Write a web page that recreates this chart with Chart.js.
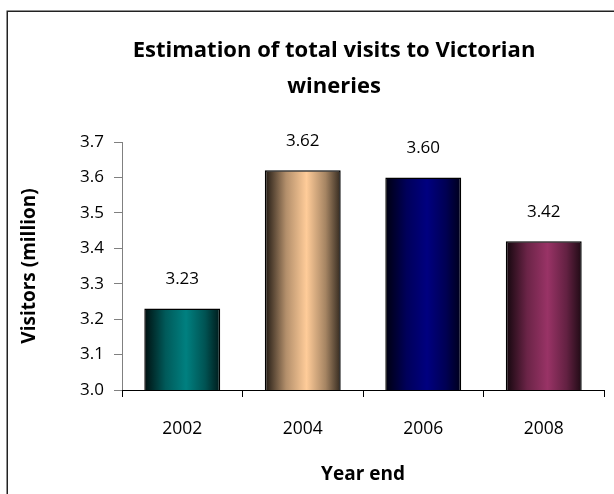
<!DOCTYPE html>
<html><head><meta charset="utf-8">
<script src="https://cdn.jsdelivr.net/npm/chart.js@4"></script>
<style>html,body{margin:0;padding:0;background:#fff;overflow:hidden}canvas{display:block}</style>
</head><body>
<canvas id="c" width="614" height="494"></canvas>
<script>
const years = ['2002', '2004', '2006', '2008'];
const visitors = [3.23, 3.62, 3.60, 3.42];
const barColors = ['#008080', '#FFCC99', '#000080', '#993366'];
const titleLines = ['Estimation of total visits to Victorian', 'wineries'];
const yTitle = 'Visitors (million)';
const xTitle = 'Year end';
const yMin = 3.0, yMax = 3.7, yStep = 0.1;
const FONT = '"Open Sans", Lato, sans-serif';

function hexToRgb(h) {
  const n = parseInt(h.slice(1), 16);
  return [(n >> 16) & 255, (n >> 8) & 255, n & 255];
}
function shade(h, f) {
  const [r, g, b] = hexToRgb(h);
  return `rgb(${Math.round(r * f)},${Math.round(g * f)},${Math.round(b * f)})`;
}
function barGradient(ctx) {
  const chart = ctx.chart;
  const xs = chart.scales.x;
  const col = barColors[ctx.dataIndex % barColors.length];
  if (!xs || !chart.chartArea) return col;
  const cx = xs.getPixelForValue(ctx.dataIndex);
  const w = (xs.width / years.length) * 0.63;
  const g = chart.ctx.createLinearGradient(cx - w / 2, 0, cx + w / 2, 0);
  g.addColorStop(0, shade(col, 0.12));
  g.addColorStop(0.28, shade(col, 0.7));
  g.addColorStop(0.55, col);
  g.addColorStop(0.8, shade(col, 0.65));
  g.addColorStop(1, shade(col, 0.2));
  return g;
}

const decor = {
  id: 'decor',
  beforeDraw(chart) {
    const c = chart.ctx;
    c.save();
    c.fillStyle = '#fff';
    c.fillRect(0, 0, chart.width, chart.height);
    c.strokeStyle = '#222';
    c.lineWidth = 1.5;
    c.strokeRect(7.25, 11.25, 700, 600);
    c.restore();
  },
  afterDraw(chart) {
    const c = chart.ctx;
    c.save();
    c.fillStyle = '#000';
    c.textAlign = 'center';
    c.textBaseline = 'middle';
    c.font = 'bold 22px ' + FONT;
    titleLines.forEach((t, i) => c.fillText(t, 334, 51 + i * 36));
    c.font = 'bold 19px ' + FONT;
    const a = chart.chartArea;
    c.fillText(xTitle, (a.left + a.right) / 2, 475);
    c.translate(30, (a.top + a.bottom) / 2);
    c.rotate(-Math.PI / 2);
    c.fillText(yTitle, 0, 0);
    c.restore();
  },
  afterDatasetsDraw(chart) {
    const c = chart.ctx;
    const meta = chart.getDatasetMeta(0);
    c.save();
    c.fillStyle = '#000';
    c.textAlign = 'center';
    c.textBaseline = 'middle';
    c.font = '17px ' + FONT;
    meta.data.forEach((el, i) => {
      c.fillText(visitors[i].toFixed(2), el.x, el.y - 29);
    });
    c.restore();
  }
};

new Chart(document.getElementById('c'), {
  type: 'bar',
  data: {
    labels: years,
    datasets: [{
      data: visitors,
      backgroundColor: barGradient,
      borderColor: '#000',
      borderWidth: 1.5,
      borderSkipped: false,
      barPercentage: 0.63,
      categoryPercentage: 1
    }]
  },
  options: {
    responsive: false,
    devicePixelRatio: 1,
    animation: false,
    layout: { padding: { top: 142, right: 10, left: 0, bottom: 0 } },
    plugins: { legend: { display: false }, tooltip: { enabled: false }, title: { display: false } },
    scales: {
      y: {
        min: yMin, max: yMax,
        afterFit(s) { s.width = 122; },
        ticks: {
          stepSize: yStep,
          callback: v => Number(v).toFixed(1),
          color: '#000',
          font: { family: FONT, size: 17 },
          padding: 10
        },
        grid: { drawOnChartArea: false, drawTicks: true, tickLength: 8, color: '#808080' },
        border: { color: '#808080', width: 1 }
      },
      x: {
        afterFit(s) { s.height = 104; },
        ticks: { color: '#000', font: { family: FONT, size: 17.5 }, padding: 22 },
        grid: { offset: true, drawOnChartArea: false, drawTicks: true, tickLength: 7, color: '#000' },
        border: { color: '#000', width: 1 }
      }
    }
  },
  plugins: [decor]
});
</script>
</body></html>
